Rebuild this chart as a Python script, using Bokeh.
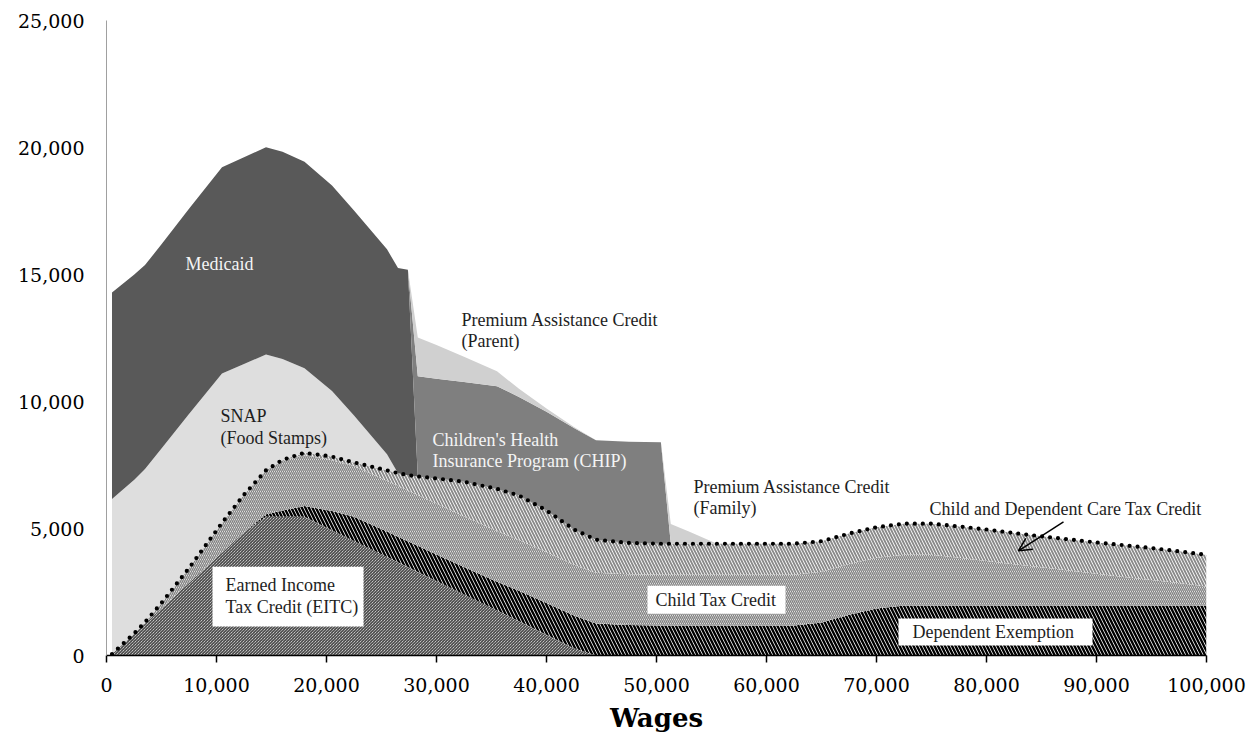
import numpy as np
from bokeh.plotting import figure
from bokeh.models import FixedTicker, NumeralTickFormatter, Range1d, Arrow, OpenHead, ColumnDataSource
from bokeh.core.properties import value
from bokeh.embed import file_html
from bokeh.resources import INLINE

# ---------------- data ----------------
wages = [500, 2500, 3500, 5000, 7500, 10500, 12500, 14500, 16000, 18000,
         20500, 22500, 25500, 26500, 27400, 28300, 30000, 32500, 35500, 37500,
         40000, 42500, 44500, 47500, 50400, 51300, 53000, 55500, 57500, 60000,
         62500, 65000, 67500, 70000, 72500, 75000, 77500, 80000, 82500, 85000,
         87500, 90000, 92500, 95000, 97500, 100000]

eitc = [60, 860, 1260, 1860, 2860, 4060, 4860, 5460, 5460, 5460,
        4930, 4510, 3880, 3670, 3480, 3290, 2930, 2400, 1770, 1350,
        820, 290, 0] + [0] * 23

dependent_exemption = [0, 0, 0, 0, 0, 0, 0, 100, 250, 430,
                       760, 950, 1000, 1010, 1020, 1030, 1050, 1080, 1130, 1200,
                       1250, 1280, 1260, 1200, 1180] + [1180] * 6 + \
                      [1300, 1600, 1850, 1970] + [1970] * 11

child_tax_credit = [0, 0, 50, 210, 580, 1160, 1470, 1730, 1950] + [2000] * 27 + \
                   [1880, 1750, 1620, 1500, 1380, 1250, 1120, 1000, 880, 750]

care_credit = [0] * 8 + [40, 90, 140, 140, 410, 500, 600, 730, 990, 1360,
                         1660, 1750, 1640, 1390, 1300, 1230] + [1220] * 7 + \
              [1200, 1200, 1200, 1220, 1220, 1230, 1240, 1230, 1220, 1220,
               1230, 1250, 1260, 1250, 1240]

snap = [6100, 6050, 6030, 6080, 6070, 5880, 5150, 4560, 3970, 3330,
        2580, 1850, 630] + [0] * 33

medicaid = [8130, 8080, 8030, 8040, 8080, 8120, 8140, 8160, 8160, 8130,
            8090, 8070, 8070, 8080, 8090] + [0] * 31

chip = [0] * 15 + [3940, 3930, 3930, 4040, 3880, 3890, 4000, 3910, 3990, 4000] + [0] * 21

pac_parent = [0] * 15 + [1530, 1320, 990, 590, 320, 120, 40, 0] + [0] * 23

pac_family = [0] * 25 + [780, 470, 0] + [0] * 18

x_ticks = [0, 10000, 20000, 30000, 40000, 50000, 60000, 70000, 80000, 90000, 100000]
y_ticks = [0, 5000, 10000, 15000, 20000, 25000]

# ---------------- figure ----------------
p = figure(width=1252, height=735, output_backend="svg", toolbar_location=None,
           x_range=Range1d(0, 100000), y_range=Range1d(0, 25000),
           min_border_left=106, min_border_right=46, min_border_top=20, min_border_bottom=78)
p.outline_line_color = None
p.xgrid.visible = False
p.ygrid.visible = False
p.background_fill_color = "white"

x = np.array(wages, dtype=float)
layers = [
    (eitc, dict(fill_color="white", hatch_pattern="left_diagonal_line", hatch_color="black",
                hatch_scale=3, hatch_weight=0.9)),
    (dependent_exemption, dict(fill_color="white", hatch_pattern="left_diagonal_line",
                               hatch_color="black", hatch_scale=7, hatch_weight=2.4)),
    (child_tax_credit, dict(fill_color="white", hatch_pattern="left_diagonal_line",
                            hatch_color="#808080", hatch_scale=4, hatch_weight=1.4)),
    (care_credit, dict(fill_color="white", hatch_pattern="left_diagonal_line",
                       hatch_color="#8a8a8a", hatch_scale=6, hatch_weight=1.9)),
    (snap, dict(fill_color="#dedede")),
    (medicaid, dict(fill_color="#595959")),
    (chip, dict(fill_color="#7f7f7f")),
    (pac_parent, dict(fill_color="#d0d0d0")),
    (pac_family, dict(fill_color="#d0d0d0")),
]
base = np.zeros(len(x))
tax_top = None
for i, (vals, style) in enumerate(layers):
    top = base + np.array(vals, dtype=float)
    p.varea(x=x, y1=base, y2=top, **style)
    base = top
    if i == 3:
        tax_top = top.copy()

# dotted line on top of the tax credits
p.line(x, tax_top, line_color="black", line_width=4.2, line_dash="0 8", line_cap="round")

# white boxes behind some labels (positions of annotations)
boxes = dict(left=[9636, 49180, 72000], right=[23364, 61730, 89636],
             bottom=[1138, 1648, 392], top=[3493, 2747, 1452])
p.quad(source=ColumnDataSource(boxes), left="left", right="right", bottom="bottom", top="top",
       fill_color="white", line_color=None)

dark_labels = dict(
    x=[10364, 10364, 32273, 32273, 53364, 53364, 74818, 10818, 10818, 49909, 73273],
    y=[9420, 8556, 13226, 12375, 6633, 5808, 5769, 2787, 1923, 2198, 942],
    t=["SNAP", "(Food Stamps)", "Premium Assistance Credit", "(Parent)",
       "Premium Assistance Credit", "(Family)", "Child and Dependent Care Tax Credit",
       "Earned Income", "Tax Credit (EITC)", "Child Tax Credit", "Dependent Exemption"])
p.text(source=ColumnDataSource(dark_labels), x="x", y="y", text="t",
       text_font=value("Liberation Serif"), text_font_size="18px", text_color="#1e1e1e",
       text_baseline="middle", text_align="left")

light_labels = dict(x=[7182, 29636, 29636], y=[15424, 8477, 7653],
                    t=["Medicaid", "Children's Health", "Insurance Program (CHIP)"])
p.text(source=ColumnDataSource(light_labels), x="x", y="y", text="t",
       text_font=value("Liberation Serif"), text_font_size="18px", text_color="#f4f4f4",
       text_baseline="middle", text_align="left")

p.add_layout(Arrow(end=OpenHead(size=13, line_width=1.5, line_color="black"),
                   x_start=87000, y_start=5260, x_end=82900, y_end=4120,
                   line_width=1.5, line_color="black"))

# axes
fmt = NumeralTickFormatter(format="0,0")
p.xaxis.ticker = FixedTicker(ticks=x_ticks)
p.xaxis.formatter = fmt
p.xaxis.axis_label = "Wages"
p.xaxis.axis_label_text_font = "DejaVu Serif"
p.xaxis.axis_label_text_font_style = "bold"
p.xaxis.axis_label_text_font_size = "26px"
p.xaxis.axis_label_text_color = "black"
p.xaxis.axis_label_standoff = 8
p.xaxis.major_label_text_font = "DejaVu Serif"
p.xaxis.major_label_text_font_size = "19px"
p.xaxis.major_label_text_color = "black"
p.xaxis.major_label_standoff = 15
p.xaxis.axis_line_color = "black"
p.xaxis.axis_line_width = 1.5
p.xaxis.major_tick_line_color = "black"
p.xaxis.major_tick_line_width = 1.5
p.xaxis.major_tick_in = 0
p.xaxis.major_tick_out = 7
p.xaxis.minor_tick_line_color = None

p.yaxis.ticker = FixedTicker(ticks=y_ticks)
p.yaxis.formatter = fmt
p.yaxis.major_label_text_font = "DejaVu Serif"
p.yaxis.major_label_text_font_size = "19px"
p.yaxis.major_label_text_color = "black"
p.yaxis.major_label_standoff = 22
p.yaxis.axis_line_color = "#a0a0a0"
p.yaxis.axis_line_width = 1
p.yaxis.major_tick_line_color = None
p.yaxis.major_tick_out = 0
p.yaxis.major_tick_in = 0
p.yaxis.minor_tick_line_color = None

open("out.html", "w").write(file_html(p, INLINE))
